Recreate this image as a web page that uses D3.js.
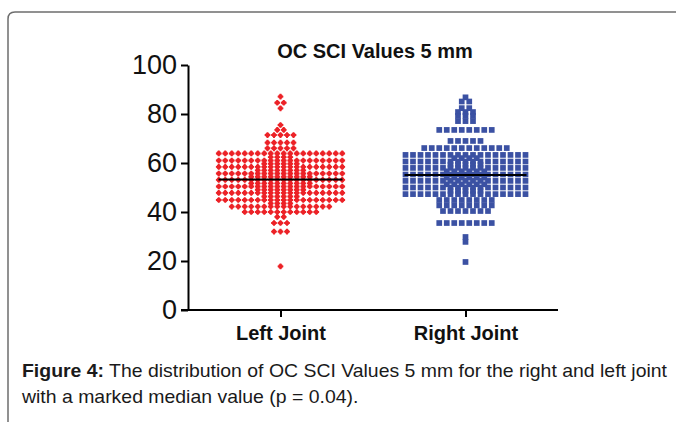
<!DOCTYPE html>
<html><head><meta charset="utf-8">
<script src="https://cdn.jsdelivr.net/npm/d3@7"></script>
<style>
html,body{margin:0;padding:0;background:#fff;}
svg{display:block;font-family:"Liberation Sans",Arial,sans-serif;}
</style></head>
<body>
<svg id="chart" width="676" height="422"></svg>
<script>
// ---- data ----
const categories = ["Left Joint", "Right Joint"];
const yTicks = [0, 20, 40, 60, 80, 100];
const title = "OC SCI Values 5 mm";

// Left joint: value levels (rows of the scatter) and number of points in each row
const leftLevels = [87.1, 84.6, 82.3, 75.5, 73.5, 71.4, 68.3, 66.0,
  63.9, 62.4, 61.0, 59.7, 58.4, 57.0, 55.7, 54.4, 53.1, 51.7, 50.4, 49.1, 47.8, 46.3, 44.9, 43.5,
  42.2, 40.0, 38.0, 35.5, 32.0, 17.8];
const leftCounts = [1, 2, 1, 1, 2, 5, 5, 5,
  20, 4, 20, 6, 20, 8, 20, 10, 20, 10, 20, 8, 20, 6, 20, 4,
  16, 12, 2, 3, 3, 1];

// Right joint
const rightLevels = [86.8, 85.1, 82.4, 80.8, 79.2, 77.1, 73.5, 69.0, 66.1,
  63.3, 62.0, 60.6, 59.3, 58.0, 56.6, 55.3, 54.0, 52.7, 51.3, 50.0, 48.6, 47.3,
  44.9, 42.7, 40.4, 35.5, 29.8, 27.8, 19.6];
const rightCounts = [1, 2, 2, 3, 3, 3, 8, 5, 12,
  17, 4, 17, 5, 17, 6, 17, 6, 17, 6, 17, 5, 17,
  8, 8, 7, 8, 1, 1, 1];

const medians = [53.3, 55.1];

// ---- drawing ----
const svg = d3.select("#chart");

// frame (rounded top-left corner)
svg.append("path")
  .attr("d", "M8,422 L8,19 Q8,12 15,12 L676,12")
  .attr("fill", "none").attr("stroke", "#6e6e6e").attr("stroke-width", 1.5);

const y = d3.scaleLinear().domain([0, 100]).range([310, 65]);
const x = d3.scalePoint().domain(categories).range([188, 558]).padding(0.5);

// y axis
const yAxis = d3.axisLeft(y).tickValues(yTicks).tickSize(7).tickPadding(4).tickSizeOuter(0);
const gy = svg.append("g").attr("transform", "translate(188,0)").call(yAxis);
gy.select(".domain").attr("stroke", "#000").attr("stroke-width", 2);
gy.selectAll(".tick line").attr("stroke", "#000").attr("stroke-width", 2);
gy.selectAll(".tick text").attr("font-size", 27).attr("fill", "#111")
  .attr("font-family", "'Liberation Sans',Arial,sans-serif");

// x axis
const xAxis = d3.axisBottom(x).tickSize(7).tickPadding(9).tickSizeOuter(0);
const gx = svg.append("g").attr("transform", "translate(0,310)").call(xAxis);
gx.select(".domain").attr("stroke", "#000").attr("stroke-width", 2).attr("d", "M181,0H558");
gx.selectAll(".tick line").attr("stroke", "#000").attr("stroke-width", 2);
gx.selectAll(".tick text").attr("font-size", 20).attr("font-weight", "bold").attr("fill", "#111")
  .attr("font-family", "'Liberation Sans',Arial,sans-serif");

// swarm layout: points of a row sit side by side, centred on the category
function swarm(cat, levels, counts, spacing) {
  const pts = [];
  levels.forEach((v, i) => {
    const n = counts[i];
    for (let k = 0; k < n; k++) {
      pts.push({ cx: x(cat) + (k - (n - 1) / 2) * spacing, cy: y(v) });
    }
  });
  return pts;
}

const leftPts = swarm(categories[0], leftLevels, leftCounts, 6.5);
const rightPts = swarm(categories[1], rightLevels, rightCounts, 7.5);

const red = "#ec2227", blue = "#3b51a3";
const gl = svg.append("g");
gl.selectAll("circle").data(leftPts).join("circle")
  .attr("cx", d => d.cx).attr("cy", d => d.cy).attr("r", 2.35).attr("fill", red);
gl.selectAll("path").data(leftPts).join("path")
  .attr("d", d3.symbol(d3.symbolCross, 18))
  .attr("transform", d => `translate(${d.cx},${d.cy})`).attr("fill", red);

svg.append("g").selectAll("rect").data(rightPts).join("rect")
  .attr("x", d => d.cx - 2.85).attr("y", d => d.cy - 2.85)
  .attr("width", 5.7).attr("height", 5.7).attr("fill", blue);

// median lines
const halfW = [62, 61];
svg.append("g").selectAll("line").data(categories).join("line")
  .attr("x1", (c, i) => x(c) - halfW[i]).attr("x2", (c, i) => x(c) + halfW[i])
  .attr("y1", (c, i) => y(medians[i])).attr("y2", (c, i) => y(medians[i]))
  .attr("stroke", "#000").attr("stroke-width", 2);

// title
svg.append("text").attr("x", 375).attr("y", 58).attr("text-anchor", "middle")
  .attr("font-size", 20).attr("font-weight", "bold").attr("fill", "#111").text(title);

// caption (condensed face: glyphs squeezed to fit the justified line)
const cap1 = svg.append("text").attr("x", 22).attr("y", 377).attr("font-size", 19).attr("fill", "#1a1a1a");
cap1.append("tspan").attr("font-weight", "bold").text("Figure 4:");
cap1.append("tspan").text(" The distribution of OC SCI Values 5 mm for the right and left joint");
const w1 = cap1.node().getComputedTextLength();
const squeeze = 645 / w1;
cap1.attr("textLength", 645).attr("lengthAdjust", "spacingAndGlyphs");

const cap2 = svg.append("text").attr("x", 22).attr("y", 403).attr("font-size", 19).attr("fill", "#1a1a1a")
  .text("with a marked median value (p = 0.04).");
const w2 = cap2.node().getComputedTextLength();
cap2.attr("textLength", w2 * squeeze).attr("lengthAdjust", "spacingAndGlyphs");
</script>
</body></html>
